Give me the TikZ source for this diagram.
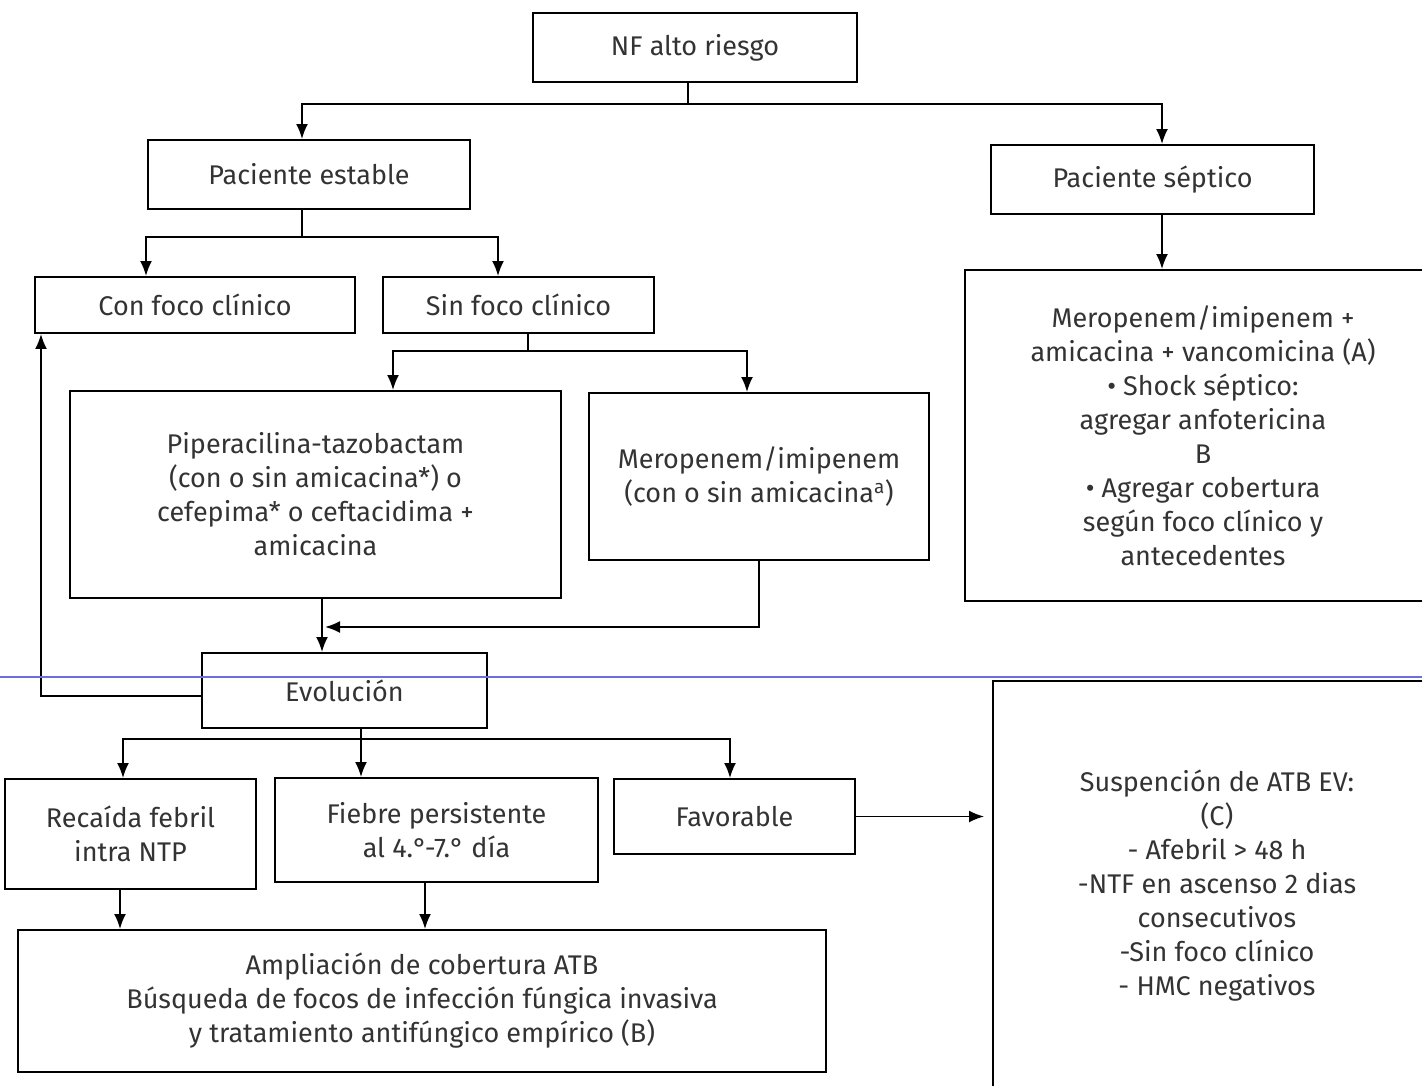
\documentclass[tikz,border=0pt]{standalone}
\usepackage{fontspec}
\setmainfont{Fira Sans}
\usetikzlibrary{arrows.meta}
\definecolor{scanblue}{RGB}{110,110,225}

\begin{document}
\begin{tikzpicture}
  [x=1pt, y=-1pt,
    every node/.style={text=black!80, font=\fontsize{27}{34}\selectfont, align=center},
    box/.style={draw, line width=1.9pt, inner sep=0pt},
    arr/.style={-{Latex[length=15pt,width=12pt]}, line width=1.9pt},
  ]
  \useasboundingbox (0,0) rectangle (1422,1086);

  % top level
  \node[box, minimum width=324pt, minimum height=69pt] (nf) at (695,47.5) {NF alto riesgo};
  \node[box, minimum width=322pt, minimum height=69pt] (estable) at (309,174.5) {Paciente estable};
  \node[box, minimum width=323pt, minimum height=69pt] (septico) at (1152.5,179.5) {Paciente séptico};

  % stable branch
  \node[box, minimum width=320pt, minimum height=56pt] (confoco) at (195,305) {Con foco clínico};
  \node[box, minimum width=271pt, minimum height=56pt] (sinfoco) at (518.5,305) {Sin foco clínico};
  \node[box, minimum width=491pt, minimum height=207pt] (pip) at (315.5,494.5)
    {Piperacilina-tazobactam\\(con o sin amicacina*) o\\cefepima* o ceftacidima +\\amicacina};
  \node[box, minimum width=340pt, minimum height=167pt] (mero) at (759,476.5)
    {Meropenem/imipenem\\(con o sin amicacina\textsuperscript{a})};

  % septic branch
  \node[box, minimum width=476pt, minimum height=331pt] (trat) at (1203,435.5)
    {Meropenem/imipenem +\\amicacina + vancomicina (A)\\• Shock séptico:\\agregar anfotericina\\B\\• Agregar cobertura\\según foco clínico y\\antecedentes};

  % evolution
  \node[box, minimum width=285pt, minimum height=75pt] (evol) at (344.5,690.5) {Evolución};
  \node[box, minimum width=251pt, minimum height=110pt] (recaida) at (130.5,834) {Recaída febril\\intra NTP};
  \node[box, minimum width=323pt, minimum height=104pt] (fiebre) at (436.5,830) {Fiebre persistente\\al 4.°-7.° día};
  \node[box, minimum width=241pt, minimum height=75pt] (favorable) at (734.5,816.5) {Favorable};
  \node[box, minimum width=448pt, minimum height=410pt] (susp) at (1217,886)
    {Suspención de ATB EV:\\(C)\\- Afebril > 48 h\\-NTF en ascenso 2 dias\\consecutivos\\-Sin foco clínico\\- HMC negativos};
  \node[box, minimum width=808pt, minimum height=142pt] (ampl) at (422,1001)
    {Ampliación de cobertura ATB\\Búsqueda de focos de infección fúngica invasiva\\y tratamiento antifúngico empírico (B)};

  \coordinate (merojoin) at (325,627);

  % connectors
  \draw[arr] ([xshift=-7pt]nf.south) -- ++(0,21) -| ([xshift=-7pt]estable.north);
  \draw[arr] ([xshift=-7pt]nf.south) -- ++(0,21) -| ([xshift=9.5pt]septico.north);
  \draw[arr] ([xshift=9.5pt]septico.south) -- ([xshift=-41pt]trat.north);
  \draw[arr] ([xshift=-7pt]estable.south) -- ++(0,27) -| ([xshift=-49pt]confoco.north);
  \draw[arr] ([xshift=-7pt]estable.south) -- ++(0,27) -| ([xshift=-20.5pt]sinfoco.north);
  \draw[arr] ([xshift=9.5pt]sinfoco.south) -- ++(0,17) -| ([xshift=77.5pt]pip.north);
  \draw[arr] ([xshift=9.5pt]sinfoco.south) -- ++(0,17) -| ([xshift=-12pt]mero.north);
  \draw[arr] ([xshift=6.5pt]pip.south) -- ([xshift=-22.5pt]evol.north);
  \draw[arr] (mero.south) |- (merojoin);
  \draw[arr] ([yshift=-5.5pt]evol.west) -| ([xshift=-154pt]confoco.south);
  \draw[arr] ([xshift=16.5pt]evol.south) -- ++(0,10) -| ([xshift=-7.5pt]recaida.north);
  \draw[arr] ([xshift=16.5pt]evol.south) -- ++(0,10) -| ([xshift=-75.5pt]fiebre.north);
  \draw[arr] ([xshift=16.5pt]evol.south) -- ++(0,10) -| ([xshift=-4.5pt]favorable.north);
  \draw[arr, shorten >=8pt] (favorable.east) -- (favorable.east -| susp.west);
  \draw[arr] ([xshift=-10.5pt]recaida.south) -- ([xshift=-10.5pt]recaida.south |- ampl.north);
  \draw[arr] ([xshift=-11.5pt]fiebre.south) -- ([xshift=-11.5pt]fiebre.south |- ampl.north);

  % scan line
  \draw[scanblue, line width=1.2pt] (0,677) -- (1422,677);
\end{tikzpicture}
\end{document}
